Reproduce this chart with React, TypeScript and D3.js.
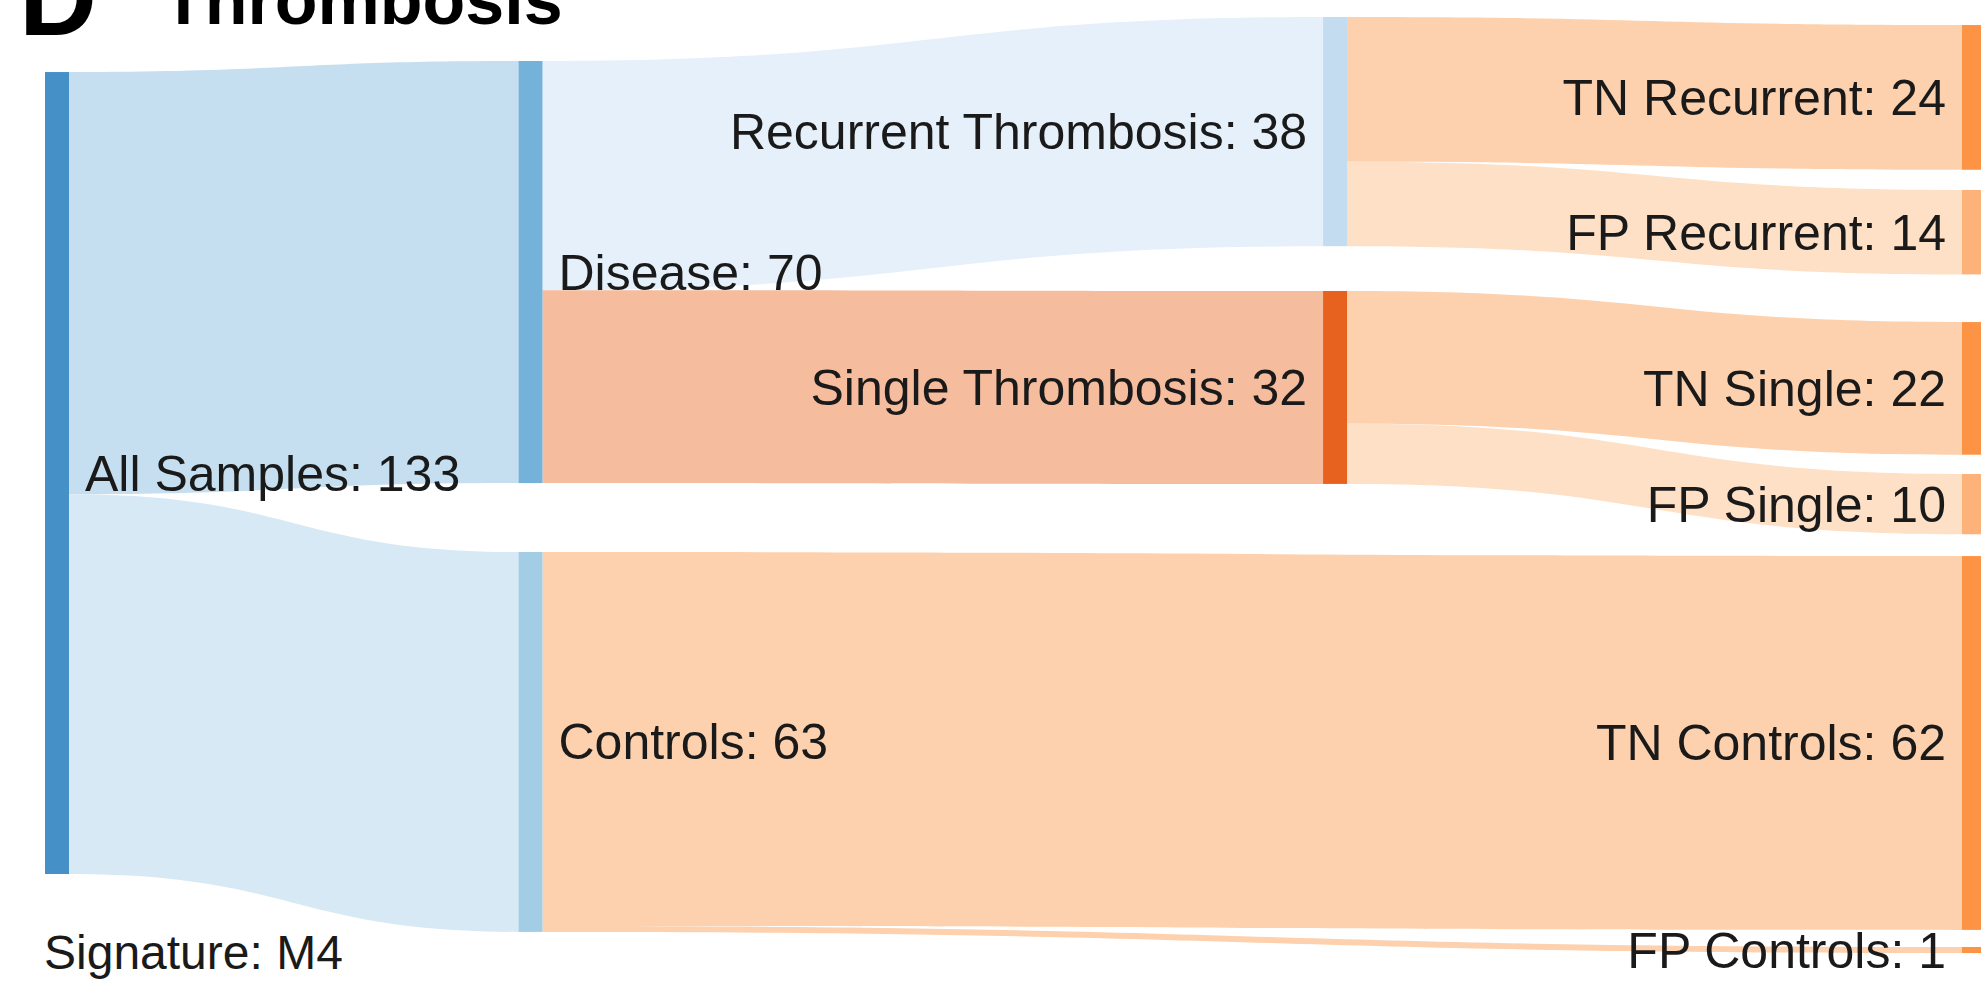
import React from "react";
import * as d3 from "d3";

// ---- data ----
const nodeNames = [
  "All Samples",
  "Disease",
  "Controls",
  "Recurrent Thrombosis",
  "Single Thrombosis",
  "TN Recurrent",
  "FP Recurrent",
  "TN Single",
  "FP Single",
  "TN Controls",
  "FP Controls",
];
const linkSource = [0, 0, 1, 1, 3, 3, 4, 4, 2, 2];
const linkTarget = [1, 2, 3, 4, 5, 6, 7, 8, 9, 10];
const linkValue = [70, 63, 38, 32, 24, 14, 22, 10, 62, 1];
const titleLetter = "D";
const titleText = "Thrombosis";
const annotationText = "Signature: M4";

// ---- layout (plotly-like node.x / node.y arrangement, fractions) ----
const nodeX = [0, 0.247, 0.247, 0.6667, 0.6667, 1, 1, 1, 1, 1, 1];
const nodeY = [0.0588, 0.047, 0.5716, 0, 0.2927, 0.0086, 0.1848, 0.3259, 0.4882, 0.5759, 0.9936];
const labelSide = ["right", "right", "right", "left", "left", "left", "left", "left", "left", "left", "left"];

// ---- styles ----
const nodeColors = [
  "#4690c8", "#74b2d9", "#a3cde5", "#c4dcf0", "#e8621f",
  "#fd9445", "#fdb27a", "#fd9445", "#fdb27a", "#fd9445", "#fd9445",
];
const linkColors = [
  "#c5dff0", "#d6e9f5", "#e5f0fa", "#f5bc9e",
  "#fdd1ae", "#fde0c6", "#fdd1ae", "#fde0c6", "#fdd1ae", "#fdd1ae",
];

const W = 1981;
const H = 992;
const NODE_W = 24;
const FONT = "'Liberation Sans', Arial, Helvetica, sans-serif";

export default function App() {
  const xScale = d3.scaleLinear().domain([0, 1]).range([45, 1962]);
  const yScale = d3.scaleLinear().domain([0, 1]).range([17, 953]);
  const vScale = d3.scaleLinear().domain([0, 1]).range([0, 6.03]);

  const nodes = nodeNames.map((name, i) => {
    const inSum = d3.sum(linkValue.filter((_, j) => linkTarget[j] === i));
    const outSum = d3.sum(linkValue.filter((_, j) => linkSource[j] === i));
    const value = Math.max(inSum, outSum);
    const x0 = xScale(nodeX[i]);
    const y0 = yScale(nodeY[i]);
    return { name, value, x0, x1: x0 + NODE_W, y0, y1: y0 + vScale(value), outOff: 0, inOff: 0 };
  });

  const links = linkValue.map((v, j) => {
    const s = nodes[linkSource[j]];
    const t = nodes[linkTarget[j]];
    const h = vScale(v);
    const sy0 = s.y0 + s.outOff;
    s.outOff += h;
    const ty0 = t.y0 + t.inOff;
    t.inOff += h;
    return {
      pts: [
        { x: s.x1, y0: sy0, y1: sy0 + h },
        { x: t.x0, y0: ty0, y1: ty0 + h },
      ],
      color: linkColors[j],
    };
  });

  const area = d3
    .area<{ x: number; y0: number; y1: number }>()
    .x((d) => d.x)
    .y0((d) => d.y0)
    .y1((d) => d.y1)
    .curve(d3.curveBumpX);

  const labelSize = 50;

  return (
    <svg
      width={W}
      height={H}
      viewBox={`0 0 ${W} ${H}`}
      style={{ position: "absolute", left: 0, top: 0, background: "#fff" }}
    >
      <rect x={0} y={0} width={W} height={H} fill="#fff" />
      <g>
        {links.map((l, i) => (
          <path key={i} d={area(l.pts) || ""} fill={l.color} />
        ))}
      </g>
      <g>
        {nodes.map((n, i) => (
          <rect key={i} x={n.x0} y={n.y0} width={NODE_W} height={Math.max(n.y1 - n.y0, 1)} fill={nodeColors[i]} />
        ))}
      </g>
      <g fontFamily={FONT} fontSize={labelSize} fill="#1a1a1a">
        {nodes.map((n, i) => {
          const right = labelSide[i] === "right";
          return (
            <text
              key={i}
              x={right ? n.x1 + 16 : n.x0 - 16}
              y={(n.y0 + n.y1) / 2}
              dy="0.35em"
              textAnchor={right ? "start" : "end"}
            >
              {`${n.name}: ${n.value}`}
            </text>
          );
        })}
      </g>
      <text x={44} y={969} fontFamily={FONT} fontSize={48} fill="#1a1a1a">
        {annotationText}
      </text>
      <text x={19} y={35} fontFamily={FONT} fontSize={108} fontWeight="bold" fill="#000">
        {titleLetter}
      </text>
      <text x={162} y={24} fontFamily={FONT} fontSize={70} fontWeight="bold" fill="#000">
        {titleText}
      </text>
    </svg>
  );
}
